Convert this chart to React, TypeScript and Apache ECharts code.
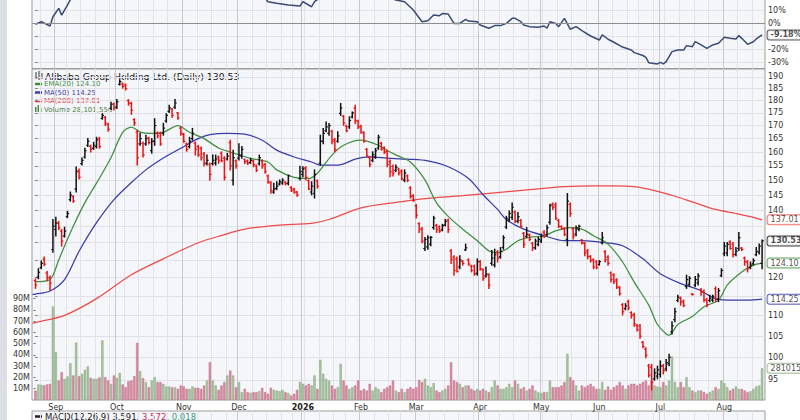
import React, { useEffect, useRef } from 'react';
import * as echarts from 'echarts';

// ---------- data ----------
const TITLE = 'Alibaba Group Holding Ltd.';
const MONTH_STARTS = [7, 28, 51, 70, 92, 112, 131, 153, 174, 194, 215, 237];
const MONTH_LABELS = ['Sep', 'Oct', 'Nov', 'Dec', '2026', 'Feb', 'Mar', 'Apr', 'May', 'Jun', 'Jul', 'Aug'];
const WEEK_STARTS = [2, 7, 11, 16, 21, 26, 31, 36, 41, 46, 51, 56, 61, 66, 70, 75, 80, 85, 89, 93, 98, 103, 107, 112, 117, 122, 126, 131, 136, 141, 146, 151, 155, 160, 165, 170, 175, 180, 185, 190, 194, 199, 204, 208, 213, 217, 222, 227, 232, 237, 242, 247];

const OPEN = [
  119.2, 120.2, 122.8, 125.2, 121.3, 120, 128, 134, 136, 133.5,
  132, 138, 143.5, 144.5, 147, 153.2, 155.8, 158.2, 162.5, 162.2,
  161.4, 162, 165, 172.8, 173.2, 170.5, 176.8, 178.6, 177.3, 186.8,
  187, 186.6, 180, 178.8, 172.3, 167.5, 163, 163.2, 163, 165.2,
  160.5, 164, 167.2, 167, 167, 171.8, 175.6, 176.5, 177.3, 175,
  169, 166.6, 163, 162, 165, 163.3, 162, 161.4, 159.3, 155.8,
  155.6, 155.8, 156, 158.2, 159.5, 157.8, 157.5, 163.5, 150, 156.8,
  157.8, 158.5, 157.2, 156.8, 156.2, 156.8, 155, 155.8, 156.8, 155.5,
  151.5, 149.2, 146, 147.2, 148.7, 149, 149.3, 149, 147.5, 147,
  146, 150.6, 152, 154.3, 149.8, 146, 145.5, 149.8, 156, 164,
  168, 167, 167.8, 164.6, 164, 174.8, 173.6, 169.8, 169.5, 173.4,
  177, 171.7, 169.7, 167.2, 161, 158, 157, 158.2, 161.5, 163.2,
  161.6, 160.2, 156.5, 154.8, 153.4, 153.9, 153.2, 150, 151.5, 147.4,
  144.8, 141.5, 135.8, 134.2, 128.3, 128.8, 129.6, 134.6, 135.3, 134.8,
  133.9, 135.4, 136.9, 127.6, 125.8, 125.3, 123, 124.6, 127.9, 125,
  123.2, 123.2, 121.2, 124.5, 122.2, 120.5, 120.8, 124, 123.6, 127.3,
  125.9, 128.6, 134.8, 137, 137.8, 139.5, 136.6, 136.8, 132.8, 131.9,
  132.3, 129.8, 128.5, 129.5, 130.5, 133.2, 132.5, 136.2, 142, 141.8,
  136.8, 134.9, 134.2, 131, 142, 134.2, 132.6, 134, 130.8, 129.8,
  127.6, 126, 125, 124.4, 123.7, 130, 127.3, 125.8, 121.3, 120.8,
  119.4, 117.3, 112.8, 111.8, 113.6, 110.8, 110.3, 107.6, 107.4, 103.5,
  101.9, 98.1, 97.8, 95.2, 95.8, 96.2, 98.1, 97.4, 98.5, 106,
  109, 113.9, 114.5, 113.7, 117.6, 118.2, 115.6, 118, 118.6, 116.8,
  116.3, 114.1, 113.9, 114, 117, 114.2, 120.6, 126.8, 127, 130.2,
  129.6, 126.6, 128.3, 128.4, 125.5, 124.4, 122.9, 123.9, 126.5, 127.2,
  124,
];
const HIGH = [
  119.7, 122.5, 124.7, 125.8, 121.7, 120.5, 137.1, 137.8, 136.5, 134,
  134.7, 139.7, 146, 144.8, 154.6, 153.9, 157.8, 161.4, 165, 162.5,
  163.6, 165.5, 165.5, 174.7, 173.6, 170.9, 179.3, 179, 180.4, 188.7,
  187.4, 187, 180.4, 179.3, 172.7, 168.2, 167, 163.7, 166.3, 165.5,
  165, 172.7, 167.5, 167.5, 170.9, 174.7, 178.1, 176.8, 180.4, 175.2,
  169.4, 167, 163.3, 165.5, 168.9, 163.7, 162.5, 161.9, 159.8, 158.9,
  156, 158.9, 158.9, 158.5, 160.1, 158.3, 159.5, 164.4, 160.7, 157.1,
  163.1, 162, 157.5, 157.1, 157.7, 157.1, 155.3, 158.9, 157.1, 155.9,
  151.8, 149.5, 149, 149.5, 150.1, 150.5, 149.5, 151.8, 147.8, 147.3,
  146.2, 154.9, 154.7, 154.7, 150.1, 149.5, 153.6, 150.1, 166.3, 168.9,
  171.4, 170.8, 168.2, 165, 167.6, 178.8, 174, 170.1, 173.4, 175.4,
  178.1, 172.1, 170.1, 167.6, 161.3, 158.3, 160.1, 161.3, 166.3, 163.6,
  161.9, 160.7, 157.1, 155.3, 155.3, 154.2, 153.6, 153.6, 151.8, 147.8,
  145.1, 141.9, 136.1, 134.6, 131.6, 132.1, 131.9, 138.1, 135.6, 135.1,
  135.6, 137.1, 137.3, 128, 126.2, 125.8, 126.2, 124.8, 129.6, 125.3,
  123.5, 123.5, 125.3, 124.8, 122.5, 123, 121.1, 127.7, 128.1, 127.7,
  128.6, 132.1, 138.1, 139.8, 142.4, 139.8, 139.3, 137.1, 133.1, 134.6,
  132.6, 130.1, 131.1, 131.6, 132.6, 133.6, 135.3, 142, 142.4, 142.4,
  137.1, 135.1, 134.6, 145.5, 142.4, 134.6, 135.1, 135.3, 131, 130.1,
  128, 126.2, 125.3, 124.8, 124.8, 133.1, 127.7, 126.2, 121.6, 121.1,
  119.7, 117.6, 113.1, 113.1, 114, 111, 110.6, 107.8, 107.8, 103.7,
  102.2, 98.4, 98.4, 97.4, 98, 99.2, 98.4, 99.5, 100.7, 108.5,
  111.9, 115.3, 114.8, 114, 120.7, 120.3, 115.7, 120.3, 121.1, 117.1,
  116.7, 114.4, 115.3, 115.3, 117.5, 117.1, 122.5, 130.1, 130.1, 130.6,
  130.1, 128.6, 133.1, 128.6, 125.8, 124.8, 124.4, 125.3, 128.6, 129.6,
  130.8,
];
const LOW = [
  117.1, 119.7, 122.5, 123.3, 119.2, 116.6, 127.2, 132, 134, 129,
  131.7, 137.7, 143, 142.6, 146, 150.4, 155.3, 157.8, 162, 160,
  161, 161.5, 161.4, 172.5, 170, 167.8, 176.4, 176.2, 176.8, 186.5,
  185.2, 184.4, 178.1, 174.4, 170, 155.3, 162.5, 158.2, 162.5, 163,
  159.6, 162.5, 165.3, 162.5, 166.3, 171.3, 175.2, 173.2, 176.8, 172.5,
  166.3, 163.6, 160.3, 161.5, 164.4, 158.9, 158.5, 157.1, 155, 155.3,
  150, 155.3, 155.3, 155.9, 156.5, 150.1, 157.1, 153.6, 148.4, 154.2,
  157.1, 157.7, 155.9, 155.5, 155.9, 154.7, 153, 155.3, 154.2, 152.4,
  149, 145.6, 145.6, 146.8, 148.4, 148.6, 148.4, 148.4, 146.2, 145.6,
  144.6, 150.1, 151.2, 150.1, 146.8, 145.1, 144, 147.3, 155.3, 163.1,
  167.6, 166.3, 163.1, 160.1, 163.6, 174, 170.1, 167.6, 168.9, 173,
  170.8, 168.9, 167, 163.6, 158.3, 154.7, 156.5, 157.7, 161, 160.7,
  159.5, 154.7, 151.2, 151.5, 153, 151.8, 150.1, 149.5, 149.5, 144,
  142.9, 137.6, 133.1, 130, 127.7, 128.1, 129.1, 134.1, 133.1, 133.1,
  133.6, 135.1, 133.1, 124, 120.7, 121.6, 122.5, 123.5, 127.7, 123.5,
  121.6, 120.7, 120.7, 122.1, 119.3, 120.1, 117.1, 123.5, 123, 124.4,
  125.5, 128.1, 134.3, 136.5, 137.1, 136.1, 136.1, 134.6, 128.6, 131.6,
  130.6, 127.7, 128.1, 129.1, 130.1, 131.6, 132.1, 135.6, 140.3, 137.1,
  134.6, 134.1, 132.1, 129.1, 138.1, 131.1, 132.1, 133.6, 129.6, 126.2,
  125.3, 124.4, 122.5, 122.5, 123.5, 129.6, 124.4, 123.5, 118.8, 118.4,
  117.1, 115.3, 110.2, 111.5, 111.5, 109.4, 107.4, 106.2, 104.5, 102.2,
  99.9, 95.6, 92.8, 94.9, 95.2, 95.6, 96.3, 97, 98.1, 105.5,
  108.5, 113.6, 112.7, 112.3, 117.1, 117.6, 115.3, 117.6, 118, 115.3,
  113.6, 112.3, 113.6, 113.6, 113.6, 113.6, 120.3, 126.2, 126.2, 128.1,
  125.8, 126.2, 127.7, 127.7, 123.5, 121.6, 122.5, 123.5, 126.2, 126.7,
  122.5,
];
const CLOSE = [
  118, 121.5, 124, 123.8, 120, 118.5, 135, 136, 134.5, 130.5,
  133.5, 139, 145, 143, 153, 151, 157, 160.5, 164, 161,
  162.5, 164.5, 162, 174, 171, 168.5, 178.5, 177, 179.5, 188,
  186, 185, 179, 176, 171, 158, 165, 159, 165, 163.5,
  164, 170, 166, 163, 169, 174, 177, 174, 179, 173,
  167, 164, 161, 164, 167, 161, 159, 158, 156, 157,
  152, 157, 157.5, 157, 156.8, 151, 158.5, 155, 158, 155,
  159, 161, 156.5, 156, 157, 155.5, 153.5, 158, 155, 153,
  149.5, 146.5, 147, 148, 149.5, 150, 148.8, 151.5, 146.5, 146,
  145, 153, 154, 151, 147, 148, 152, 148, 164, 167,
  169.5, 170, 164, 161, 166, 177, 171, 168, 172, 175,
  172, 169.5, 167.5, 164, 158.6, 155.5, 159, 160.5, 165.5, 161,
  160, 155.5, 153, 152.5, 154.5, 152.5, 150.5, 152.5, 150, 144.5,
  143.2, 138.5, 134, 130.5, 131, 131.5, 131.6, 137.5, 134, 133.5,
  135.2, 136.5, 134, 125, 122, 121.7, 125, 124, 128.5, 123.8,
  122, 121, 124.5, 122.5, 119.8, 121, 118, 125.5, 126.5, 125.5,
  127.5, 131.5, 137.5, 139, 141, 136.5, 138, 135, 129.5, 132.5,
  131, 128.5, 130.5, 131, 132, 131.8, 134.5, 141.5, 141, 137.5,
  135, 134.3, 132.5, 143, 139, 132, 134.5, 135, 130, 127,
  126, 124.8, 123, 122.8, 124.5, 131.5, 125, 124, 119.5, 119,
  117.5, 115.7, 111, 112.5, 112, 110, 108, 106.5, 105, 102.5,
  100.5, 96, 94.5, 96.5, 97.2, 98, 97, 98.8, 100, 107.5,
  111, 114.8, 113.5, 112.6, 119.5, 119.8, 115.5, 119.5, 120.5, 116,
  114, 112.8, 114.5, 115, 114.2, 116.5, 122, 129, 129.5, 128.3,
  126.5, 127.5, 131.5, 128, 124.5, 122.5, 123.5, 124.8, 127.5, 129,
  130.53,
];
// volume in millions of shares
const VOLUME_M = [
  8.4, 13.8, 13.5, 13, 13.8, 14.4, 83, 42.5, 17.3, 24.7,
  18.8, 20.9, 32.7, 21.8, 51, 21.2, 23.3, 26.8, 29.8, 19.7,
  18.8, 18.8, 20, 52.9, 20.3, 17.3, 14.4, 21.8, 19.7, 24.1,
  13.8, 11.4, 16.7, 17.3, 21.2, 50.8, 25.6, 19.4, 15.9, 11.4,
  17.3, 20.3, 15.9, 15.9, 14.4, 12, 12, 11.4, 11.4, 9.9,
  12.9, 12, 9.9, 9.9, 12, 10.8, 10.8, 9.9, 12.9, 17.3,
  33.6, 17.3, 12.9, 9, 12.9, 15.9, 21.8, 26.2, 21.8, 11.4,
  15.9, 7, 9.9, 7, 6.4, 7, 7, 7.9, 10.8, 7,
  5.5, 10.8, 9, 8.4, 7.9, 9, 7, 6.1, 4, 5.5,
  9, 15.9, 14.4, 12.9, 14.4, 12.9, 21.8, 9.9, 35.7, 23.3,
  18.8, 17.3, 12.9, 9.9, 11.4, 32.1, 17.3, 12.9, 9.9, 11.4,
  12.9, 17.3, 8.4, 9.9, 8.4, 14.4, 8.4, 11.4, 9.9, 7,
  9.9, 11.4, 12.9, 17.3, 8.4, 7, 9.9, 7, 9.9, 11.4,
  10, 11.4, 17.9, 15.9, 18.8, 12.9, 11.4, 15, 8.4, 7,
  8.4, 9.9, 12.9, 33.6, 17.3, 15.9, 14.4, 11.4, 12.9, 12.9,
  9.9, 8.4, 9.9, 8.4, 9.9, 8.4, 7, 11.4, 17.3, 12.9,
  9.9, 9.9, 11.4, 14.4, 11.4, 17.3, 14.4, 9.9, 11.4, 8.4,
  9.9, 12.9, 8.4, 7, 6.1, 7, 7, 17.3, 11.4, 11.4,
  11.4, 12.9, 15.9, 41, 20.3, 17.3, 12.9, 8.4, 12.9, 11.4,
  12.9, 14.4, 12, 9.9, 9.9, 15.9, 9, 12, 9, 11.4,
  12.9, 15.9, 12.9, 9.9, 12.9, 14.4, 14.4, 12.9, 14.4, 15.9,
  17.3, 12.9, 17.3, 12.9, 12, 11.4, 15.9, 12.9, 17.3, 38.7,
  15.9, 11.4, 15.9, 11.4, 20.3, 11.4, 8.4, 7, 8.4, 8.4,
  7, 5.5, 7, 8.4, 11.4, 9.9, 17.3, 15, 11.4, 8.4,
  9.9, 12, 9.9, 9.9, 8.4, 7, 7.8, 9.9, 12, 12.9,
  28.101556,
];
// [bar index, value]
const EMA20 = [[0, 118.9], [5, 119.5], [8, 125], [10, 129], [13, 135], [17, 142.5], [21, 149], [26, 158], [30, 167.4], [33, 169.4], [36, 167.5], [40, 167], [44, 167.4], [49, 170], [53, 167.4], [58, 165], [63, 161.5], [67, 160], [74, 157.7], [80, 156.4], [83, 153.6], [89, 151], [94, 150.6], [97, 152.4], [102, 158.9], [106, 162.5], [112, 164.4], [118, 162.5], [122, 160], [125, 158.5], [129, 156.4], [134, 150.1], [138, 142.4], [142, 138.1], [147, 134.1], [152, 130.6], [156, 127.6], [159, 127], [162, 128.1], [166, 130.6], [170, 131.6], [175, 132.1], [179, 133.6], [184, 134.6], [188, 134.1], [192, 132.1], [197, 129.6], [202, 124.4], [206, 118.8], [211, 112.7], [214, 107.8], [217, 105.5], [218, 105.2], [221, 107.8], [226, 109.8], [230, 112.3], [235, 114], [238, 118], [243, 121.6], [247, 123.5], [250, 124.1]];
const MA50 = [[-1, 115.5], [0, 115.6], [5, 116.4], [10, 119.5], [15, 127.5], [21, 136.1], [27, 143.5], [33, 149.2], [38, 153.6], [44, 157.8], [50, 161.4], [56, 165], [60, 166.5], [66, 167], [72, 166.7], [78, 164.4], [83, 160.7], [89, 158.2], [95, 156.4], [98, 155.3], [104, 155.3], [110, 157.4], [115, 158.2], [121, 157.8], [128, 157.4], [135, 156.8], [142, 154.7], [149, 150.6], [154, 145.1], [159, 140.3], [162, 137.1], [168, 134.1], [175, 132.1], [182, 130.6], [188, 130.6], [195, 130.1], [202, 129.1], [209, 125.3], [215, 121.1], [222, 118.4], [228, 116.8], [234, 114.4], [240, 114], [245, 114], [250, 114.25]];
const MA200 = [[-1, 108.1], [0, 108.3], [10, 110.1], [21, 114.4], [33, 120.8], [44, 125.3], [56, 130], [64, 132.2], [72, 134.1], [83, 135.3], [95, 135.9], [101, 137.1], [112, 140.8], [124, 142.6], [136, 144], [147, 144.8], [159, 145.8], [170, 146.8], [182, 147.8], [192, 148.1], [199, 148.1], [206, 147.8], [213, 146.5], [220, 144.6], [227, 142.4], [234, 140.3], [241, 139], [247, 137.8], [250, 137.01]];
// relative performance line of the upper panel, percent
const REL_PERF = [[0, -1], [2, 1], [5, -2.3], [6, 4.8], [8, 11.3], [9, 6], [11, 13.8], [12, 18], [14, 23], [20, 32], [30, 45], [40, 38], [50, 35], [60, 30], [70, 24], [79, 19], [80, 16.4], [83, 15.2], [87, 13.8], [91, 13], [92, 16.4], [95, 12.5], [96, 16.4], [97, 18], [100, 25], [105, 33], [110, 30], [115, 26], [120, 21], [124, 17.7], [127, 16.4], [130, 10], [133, 1], [135, 1.8], [137, 6.2], [139, 5.6], [140, 7.4], [142, 6.9], [144, -0.3], [146, -0.3], [148, 2.8], [149, 1.5], [152, 1], [153, -1.5], [156, -4], [158, -2], [160, -2], [162, -0.3], [164, 3.6], [165, 3.6], [167, 1], [168, -1.5], [170, -2.8], [173, -3.3], [175, -2.3], [176, -4], [177, 1], [179, -0.3], [180, -2.8], [182, 3.6], [184, -4.8], [186, -2.8], [188, -5.9], [191, -10], [194, -13.1], [195, -9.2], [197, -12.5], [199, -14.8], [202, -18.5], [205, -20.8], [206, -22.8], [209, -25], [210, -26.4], [211, -30.5], [214, -31.5], [215, -30.3], [216, -31.5], [217, -29.7], [219, -22], [221, -20.8], [223, -20.8], [224, -17.4], [226, -18.2], [227, -14.4], [229, -16.9], [231, -19.5], [233, -16.9], [235, -15.6], [237, -11], [239, -11.8], [241, -12.3], [242, -9.7], [243, -11.8], [245, -16.4], [247, -14.4], [248, -12.3], [250, -9.18]];
const MACD_VALUES = [3.591, 3.572, 0.018];

const PRICE_TICKS = [95, 100, 105, 110, 115, 120, 125, 130, 135, 140, 145, 150, 155, 160, 165, 170, 175, 180, 185, 190];
const VOLUME_TICKS_M = [10, 20, 30, 40, 50, 60, 70, 80, 90];
const PERF_TICKS = [-30, -20, -10, 0, 10, 20];
const PRICE_RANGE = [90.7, 193.5];
const VOLUME_RANGE_M = [0, 294];
const PERF_RANGE = [-35, 50];
const X_RANGE = [-1.2, 251];

const FONT = "'DejaVu Sans', Verdana, sans-serif";
const LAST = CLOSE.length - 1;
const lastOf = (a: number[][]) => a[a.length - 1][1];

// panel geometry (pixels)
const PERF_TOP = -42, PERF_H = 110.5;
const MAIN_TOP = 69, MAIN_H = 331;
const MACD_TOP = 411, MACD_H = 60;

export default function App() {
  const ref = useRef<HTMLDivElement>(null);

  useEffect(() => {
    const chart = echarts.init(ref.current as HTMLDivElement, null, { renderer: 'svg' });
    const ln = Math.log;
    const isUp = (i: number) => (i === 0 ? CLOSE[0] >= OPEN[0] : CLOSE[i] >= CLOSE[i - 1]);

    // pixel rows of tick labels and value tags, used only to hide tick labels under the tags
    const priceY = (p: number) => MAIN_TOP + ((ln(PRICE_RANGE[1]) - ln(p)) / (ln(PRICE_RANGE[1]) - ln(PRICE_RANGE[0]))) * MAIN_H;
    const volY = (v: number) => MAIN_TOP + MAIN_H - ((v - VOLUME_RANGE_M[0]) / (VOLUME_RANGE_M[1] - VOLUME_RANGE_M[0])) * MAIN_H;
    const perfY = (v: number) => PERF_TOP + ((PERF_RANGE[1] - v) / (PERF_RANGE[1] - PERF_RANGE[0])) * PERF_H;
    const mainTagRows = [priceY(lastOf(MA200)), priceY(CLOSE[LAST]), priceY(lastOf(EMA20)), priceY(lastOf(MA50)), volY(VOLUME_M[LAST])];
    const perfTagRows = [perfY(lastOf(REL_PERF))];
    const priceLabelValues = PRICE_TICKS.filter((p) => mainTagRows.every((r) => Math.abs(priceY(p) - r) > 7)).map(ln);
    const perfLabelValues = PERF_TICKS.filter((v) => perfTagRows.every((r) => Math.abs(perfY(v) - r) > 7));

    const ohlcData = CLOSE.map((c, i) => [i, ln(OPEN[i]), ln(HIGH[i]), ln(LOW[i]), ln(c), isUp(i) ? 1 : -1]);
    const volData = VOLUME_M.map((v, i) => ({
      value: [i, v],
      itemStyle: isUp(i)
        ? { color: '#A7C3A0', borderColor: '#86A67E', borderWidth: 0.5 }
        : { color: '#DB8CA2', borderColor: '#BC6A82', borderWidth: 0.5 },
    }));

    const gridBase = {
      left: 32, right: 35, show: true, backgroundColor: '#F5F6FA', borderColor: '#9C9C9C', borderWidth: 1,
      outerBoundsMode: 'none', containLabel: false,
    };
    const grids = [
      { ...gridBase, top: PERF_TOP, height: PERF_H },
      { ...gridBase, top: MAIN_TOP, height: MAIN_H },
      { ...gridBase, top: MACD_TOP, height: MACD_H },
    ];

    const xAxes: any[] = [];
    [0, 1, 2].forEach((g) => {
      xAxes.push({
        type: 'value', gridIndex: g, min: X_RANGE[0], max: X_RANGE[1], position: 'bottom',
        axisLine: { show: false },
        axisTick: { show: false, customValues: WEEK_STARTS.map((w) => w - 0.5) },
        splitLine: { show: true, lineStyle: { color: '#E1E3E9', width: 1 } },
        axisLabel: g === 1
          ? {
              show: true, customValues: MONTH_STARTS, margin: 3, fontFamily: FONT, fontSize: 8, color: '#333',
              formatter: (v: number) => {
                const k = MONTH_STARTS.indexOf(Math.round(v));
                if (k < 0) return '';
                return k === 4 ? `{b|${MONTH_LABELS[k]}}` : MONTH_LABELS[k];
              },
              rich: { b: { fontFamily: FONT, fontSize: 8, fontWeight: 'bold', color: '#222' } },
            }
          : { show: false },
      });
      xAxes.push({
        type: 'value', gridIndex: g, min: X_RANGE[0], max: X_RANGE[1], position: 'top',
        axisLine: { show: false },
        axisTick: { show: false, customValues: MONTH_STARTS.map((m) => m - 0.5) },
        axisLabel: { show: false },
        splitLine: { show: true, lineStyle: { color: '#C6C8CE', width: 1 } },
      });
    });

    const axisText = { fontFamily: FONT, fontSize: 8, color: '#333' };
    const yAxes: any[] = [
      {
        type: 'value', gridIndex: 0, position: 'right', min: PERF_RANGE[0], max: PERF_RANGE[1],
        axisLine: { show: false },
        axisTick: { show: true, length: 2, customValues: PERF_TICKS, lineStyle: { color: '#666' } },
        axisLabel: { ...axisText, margin: 3, customValues: perfLabelValues, formatter: (v: number) => `${v}%` },
        splitLine: { show: true, lineStyle: { color: '#DFE1E6' } },
      },
      {
        type: 'value', gridIndex: 1, position: 'right', min: ln(PRICE_RANGE[0]), max: ln(PRICE_RANGE[1]),
        axisLine: { show: false },
        axisTick: { show: true, length: 2, customValues: PRICE_TICKS.map(ln), lineStyle: { color: '#666' } },
        axisLabel: {
          ...axisText, margin: 3, customValues: priceLabelValues,
          formatter: (v: number) => String(Math.round(Math.exp(v))),
        },
        splitLine: { show: true, lineStyle: { color: '#DFE1E6' } },
      },
      {
        type: 'value', gridIndex: 1, position: 'left', min: VOLUME_RANGE_M[0], max: VOLUME_RANGE_M[1],
        axisLine: { show: false },
        axisTick: { show: true, length: 2, customValues: VOLUME_TICKS_M, lineStyle: { color: '#666' } },
        axisLabel: { ...axisText, margin: 2, customValues: VOLUME_TICKS_M, formatter: (v: number) => `${v}M` },
        splitLine: { show: false },
      },
      {
        type: 'value', gridIndex: 2, position: 'right', min: 0, max: 1,
        axisLine: { show: false }, axisTick: { show: false }, axisLabel: { show: false }, splitLine: { show: false },
      },
    ];

    const lineSeries = (data: number[][], color: string, z: number) => ({
      type: 'line', xAxisIndex: 2, yAxisIndex: 1, z, silent: true, showSymbol: false, smooth: 0.3,
      data: data.map(([i, v]) => [i, ln(v)]),
      lineStyle: { color, width: 1.25 },
    });

    const tag = (xIdx: number, yIdx: number, yVal: number, text: string, border: string, bold: boolean) => ({
      type: 'scatter', xAxisIndex: xIdx, yAxisIndex: yIdx, symbolSize: 1, silent: true, z: 20,
      itemStyle: { color: 'rgba(0,0,0,0)' },
      data: [[LAST, yVal]],
      label: {
        show: true, position: 'right', distance: 5, formatter: text,
        fontFamily: FONT, fontSize: 8, fontWeight: bold ? 'bold' : 'normal', color: '#222',
        backgroundColor: '#FFFFFF', borderColor: border, borderWidth: 1, borderRadius: 2, padding: [1, 3, 0, 3],
      },
    });

    const lastVol = Math.round(VOLUME_M[LAST] * 1e6);

    const legendItem = (y: number, color: string, text: string) => [
      { type: 'line', shape: { x1: 35, y1: y, x2: 42, y2: y }, style: { stroke: color, lineWidth: 2.5 }, silent: true },
      { type: 'text', x: 44, y, silent: true, style: { text, fill: color, fontFamily: FONT, fontSize: 7, verticalAlign: 'middle' } },
    ];

    const option: any = {
      animation: false,
      backgroundColor: '#FFFFFF',
      grid: grids,
      xAxis: xAxes,
      yAxis: yAxes,
      series: [
        {
          type: 'bar', xAxisIndex: 2, yAxisIndex: 2, z: 1, silent: true, barWidth: 2.3,
          data: volData,
        },
        lineSeries(MA200, '#EE4A4A', 2),
        lineSeries(MA50, '#3A3AA8', 2),
        lineSeries(EMA20, '#3E8E3E', 2),
        {
          type: 'custom', xAxisIndex: 2, yAxisIndex: 1, z: 5, silent: true,
          encode: { x: 0, y: [1, 2, 3, 4] },
          data: ohlcData,
          renderItem: (_p: any, api: any) => {
            const x = api.value(0);
            const o = api.coord([x, api.value(1)]);
            const h = api.coord([x, api.value(2)]);
            const l = api.coord([x, api.value(3)]);
            const c = api.coord([x, api.value(4)]);
            const color = api.value(5) > 0 ? '#111111' : '#EE1111';
            const w = 1.7;
            return {
              type: 'group',
              children: [
                { type: 'line', shape: { x1: h[0], y1: h[1] - 0.5, x2: l[0], y2: l[1] + 0.5 }, style: { stroke: color, lineWidth: 1.5 } },
                { type: 'line', shape: { x1: o[0] - w, y1: o[1], x2: o[0], y2: o[1] }, style: { stroke: color, lineWidth: 1.2 } },
                { type: 'line', shape: { x1: c[0], y1: c[1], x2: c[0] + w, y2: c[1] }, style: { stroke: color, lineWidth: 1.2 } },
              ],
            };
          },
        },
        {
          type: 'line', xAxisIndex: 0, yAxisIndex: 0, z: 3, silent: true, showSymbol: false,
          data: REL_PERF,
          lineStyle: { color: '#3A4A72', width: 1.5 },
          markLine: {
            silent: true, symbol: 'none', label: { show: false },
            lineStyle: { color: '#8E8E8E', width: 1, type: 'solid' },
            data: [{ yAxis: 0 }],
          },
        },
        tag(0, 0, lastOf(REL_PERF), `${lastOf(REL_PERF).toFixed(2)}%`, '#333333', true),
        tag(2, 1, ln(lastOf(MA200)), lastOf(MA200).toFixed(2), '#E85050', false),
        tag(2, 1, ln(CLOSE[LAST]), CLOSE[LAST].toFixed(2), '#111111', true),
        tag(2, 1, ln(lastOf(EMA20)), lastOf(EMA20).toFixed(2), '#3E8E3E', false),
        tag(2, 1, ln(lastOf(MA50)), lastOf(MA50).toFixed(2), '#3A3AA8', false),
        tag(2, 2, VOLUME_M[LAST], String(lastVol), '#8FAE88', false),
      ],
      graphic: [
        { type: 'rect', shape: { x: 0, y: 0, width: 7, height: 420 }, style: { fill: '#DCDFE6' }, silent: true },
        { type: 'line', shape: { x1: 36, y1: 72, x2: 36, y2: 79 }, style: { stroke: '#333', lineWidth: 1 }, silent: true },
        { type: 'line', shape: { x1: 39, y1: 71, x2: 39, y2: 80 }, style: { stroke: '#333', lineWidth: 1 }, silent: true },
        { type: 'line', shape: { x1: 42, y1: 73, x2: 42, y2: 79 }, style: { stroke: '#333', lineWidth: 1 }, silent: true },
        {
          type: 'text', x: 45, y: 76, silent: true,
          style: { text: `${TITLE} (Daily) ${CLOSE[LAST].toFixed(2)}`, fill: '#111', fontFamily: FONT, fontSize: 9.3, verticalAlign: 'middle' },
        },
        ...legendItem(84, '#3E8E3E', `EMA(20) ${lastOf(EMA20).toFixed(2)}`),
        ...legendItem(92.5, '#3A3AA8', `MA(50) ${lastOf(MA50).toFixed(2)}`),
        ...legendItem(101, '#E03A3A', `MA(200) ${lastOf(MA200).toFixed(2)}`),
        { type: 'rect', shape: { x: 35, y: 107, width: 1.5, height: 5 }, style: { fill: '#4E8A4E' }, silent: true },
        { type: 'rect', shape: { x: 37.5, y: 105, width: 1.5, height: 7 }, style: { fill: '#4E8A4E' }, silent: true },
        { type: 'rect', shape: { x: 40, y: 108, width: 1.5, height: 4 }, style: { fill: '#4E8A4E' }, silent: true },
        {
          type: 'text', x: 44, y: 109.5, silent: true,
          style: { text: `Volume ${lastVol.toLocaleString('en-US')}`, fill: '#4A7F4A', fontFamily: FONT, fontSize: 7, verticalAlign: 'middle' },
        },
        { type: 'line', shape: { x1: 35, y1: 416.5, x2: 42, y2: 416.5 }, style: { stroke: '#222', lineWidth: 2.5 }, silent: true },
        {
          type: 'text', x: 45, y: 416.5, silent: true,
          style: {
            text: `{k|MACD(12,26,9) ${MACD_VALUES[0].toFixed(3)}, }{r|${MACD_VALUES[1].toFixed(3)}}{k|, }{g|${MACD_VALUES[2].toFixed(3)}}`,
            fontFamily: FONT, fontSize: 8.5, verticalAlign: 'middle',
            rich: {
              k: { fill: '#222', fontFamily: FONT, fontSize: 8.5 },
              r: { fill: '#C0305A', fontFamily: FONT, fontSize: 8.5 },
              g: { fill: '#3A9A80', fontFamily: FONT, fontSize: 8.5 },
            },
          },
        },
      ],
    };

    chart.setOption(option);
    return () => chart.dispose();
  }, []);

  return (
    <div
      ref={ref}
      style={{ position: 'fixed', left: 0, top: 0, width: 800, height: 420, background: '#FFFFFF' }}
    />
  );
}
